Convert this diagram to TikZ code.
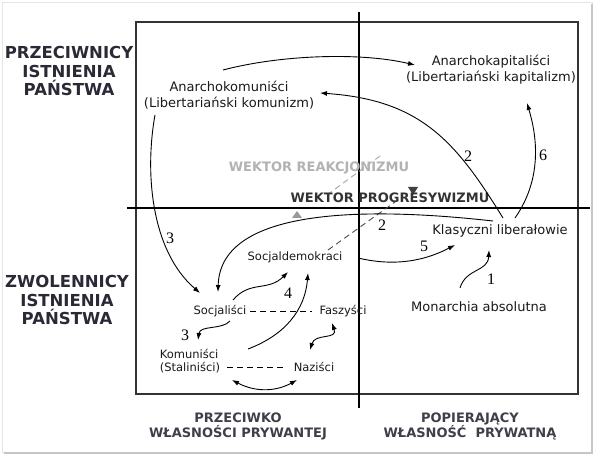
\documentclass[tikz,border=0pt]{standalone}
\usepackage{fontspec}
\setmainfont{DejaVu Sans}
\newfontfamily\numfont{Liberation Serif}
\usetikzlibrary{arrows.meta,calc}
\definecolor{ink}{HTML}{2A2A36}

\begin{document}
\begin{tikzpicture}[x=1pt,y=-1pt,
  txt/.style={font=\fontsize{13}{16}\selectfont, text=black!90, inner sep=2pt, align=center},
  stxt/.style={font=\fontsize{11.5}{13.5}\selectfont, text=black!90, inner sep=2pt, align=center},
  num/.style={font=\numfont\fontsize{16}{16}\selectfont},
  side/.style={font=\bfseries\fontsize{16.5}{18.5}\selectfont, text=ink, align=center},
  foot/.style={font=\bfseries\fontsize{13}{15}\selectfont, text=ink!90, align=center},
  vec/.style={font=\bfseries\fontsize{13}{14}\selectfont},
  arr/.style={-{Latex[length=7pt,width=5pt]}, line width=0.9pt},
  darr/.style={{Latex[length=7pt,width=5pt]}-{Latex[length=7pt,width=5pt]}, line width=0.9pt},
  dline/.style={dash pattern=on 6pt off 4pt, line width=0.9pt}]
\useasboundingbox (0,0) rectangle (600,465);
%% ramka
\draw [gray!20] (2,2) rectangle (592,452);
\draw [gray!45, line width=1.5pt] (592,4) -- (592,453) -- (4,453);
\draw [black!80, line width=1.2pt] (136,22) rectangle (578,394);
\draw [black, line width=1.6pt] (359,12) -- (359,408);
\draw [black, line width=1.6pt] (127,208) -- (590,208);
%% wektory
\draw [gray!70, dline] (327,195) -- (380,156);
\draw [black!70, dline] (328,250) -- (395,202);
\fill [gray!80] (292,218) -- (302,218) -- (297,211) -- cycle;
\fill [black!75] (408,187) -- (418,187) -- (413,195) -- cycle;
\node [vec, text=gray!60] (reak) at (319,168) {WEKTOR REAKCJONIZMU};
\node [vec, text=black!80] (prog) at (390,198) {WEKTOR PROGRESYWIZMU};
%% opisy osi
\node [side] (prz) at (69,71) {PRZECIWNICY\\ISTNIENIA\\PAŃSTWA};
\node [side] (zwo) at (67,300) {ZWOLENNICY\\ISTNIENIA\\PAŃSTWA};
\node [foot] (przw) at (238,426) {PRZECIWKO\\WŁASNOŚCI PRYWANTEJ};
\node [foot] (pop) at (470,426) {POPIERAJĄCY\\WŁASNOŚĆ\ \ PRYWATNĄ};
%% ideologie
\node [txt] (akom) at (229,95) {Anarchokomuniści\\(Libertariański komunizm)};
\node [txt] (akap) at (491,70) {Anarchokapitaliści\\(Libertariański kapitalizm)};
\node [txt] (klib) at (500,231) {Klasyczni liberałowie};
\node [txt] (mon) at (479,307) {Monarchia absolutna};
\node [stxt] (sdem) at (295,257) {Socjaldemokraci};
\node [stxt] (soc) at (220,311) {Socjaliści};
\node [stxt] (fas) at (343,311) {Faszyści};
\node [stxt, align=left] (kom) at (190,361) {Komuniści\\(Staliniści)};
\node [stxt] (naz) at (314,367) {Naziści};
%% przejscia
\draw [arr] ($(akom)+(-6,-25)$) .. controls (280,55) and (360,52) .. ($(akap)+(-76,-5)$);
\draw [arr] ($(klib)+(3,-13)$) .. controls (455,140) and (420,100) .. ($(akom)+(91,-2)$);
\draw [arr] ($(klib)+(15,-13)$) .. controls (545,175) and (535,130) .. ($(akap)+(36,33)$);
\draw [arr] ($(akom)+(-74,20)$) .. controls (145,170) and (150,250) .. ($(soc)+(-20,-18)$);
\draw [arr] ($(klib)+(-7,-10)$) .. controls (350,205) and (220,212) .. ($(soc)+(-2,-19)$);
\draw [arr] ($(sdem)+(63,1)$) .. controls (400,268) and (430,258) .. ($(klib)+(-45,14)$);
\draw [arr] ($(soc)+(13,-11)$) .. controls (250,280) and (268,292) .. ($(sdem)+(-7,15)$);
\draw [arr] ($(kom)+(58,-12)$) .. controls (285,335) and (305,310) .. ($(sdem)+(13,16)$);
\draw [arr] ($(soc)+(10,10)$) .. controls (222,330) and (200,325) .. ($(kom)+(8,-21)$);
\draw [darr] ($(fas)+(-11,12)$) .. controls (338,340) and (315,333) .. ($(naz)+(-4,-17)$);
\draw [darr] ($(kom)+(42,19)$) .. controls (255,392) and (275,392) .. ($(naz)+(-17,13)$);
\draw [arr] ($(mon)+(-19,-19)$) .. controls (466,268) and (488,272) .. ($(klib)+(-11,19)$);
%% linie przerywane
\draw [dline] ($(soc)+(30,0)$) -- ($(fas)+(-31,0)$);
\draw [dline] ($(kom)+(37,6)$) -- ($(naz)+(-31,0)$);
%% numery
\node [num] (n1) at (491,279) {1};
\node [num] (n2a) at (468,156) {2};
\node [num] (n2b) at (382,225) {2};
\node [num] (n3a) at (170,238) {3};
\node [num] (n3b) at (185,335) {3};
\node [num] (n4) at (288,293) {4};
\node [num] (n5) at (424,246) {5};
\node [num] (n6) at (543,155) {6};
\end{tikzpicture}
\end{document}
